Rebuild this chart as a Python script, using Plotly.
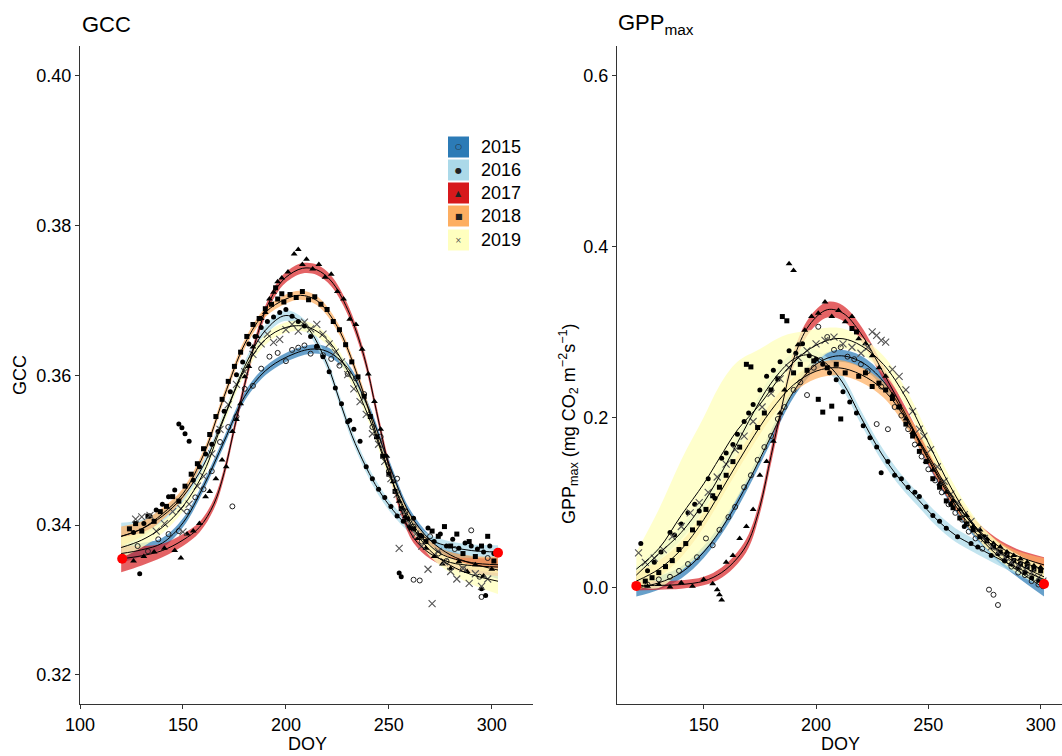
import plotly.graph_objects as go

W, H = 1062, 756
FONT = "Liberation Sans, Arial, sans-serif"

years = ["2015", "2016", "2017", "2018", "2019"]
year_colors = ["#2C7BB6", "#ABD9E9", "#D7191C", "#FDAE61", "#FFFFBF"]
ribbon_colors = ["rgba(44,123,182,0.72)", "rgba(171,217,233,0.72)", "rgba(215,25,28,0.68)",
                 "rgba(253,174,97,0.72)", "rgba(255,255,191,0.8)"]
symbols = ["circle-open", "circle", "triangle-up", "square", "x-thin-open"]
legend_glyphs = ["○", "●", "▲", "■", "×"]

# ---------------- GCC observations ----------------
gcc_doy_2015 = [128,133,138,143,148,152,156,160,164,168,172,174,176,180,184,188,192,196,200,203,206,209,212,215,218,222,226,230,234,238,242,246,250,254,258,262,262,265,266,270,274,278,282,286,290,294,295,298]
gcc_val_2015 = [0.3372,0.3365,0.3381,0.3388,0.3392,0.3418,0.3437,0.3448,0.3472,0.3511,0.3531,0.3425,0.3545,0.3582,0.3586,0.3609,0.3625,0.3630,0.3619,0.3634,0.3637,0.3640,0.3629,0.3638,0.3627,0.3622,0.3613,0.3602,0.3596,0.3575,0.3531,0.3518,0.3472,0.3462,0.3418,0.3398,0.3327,0.3326,0.3378,0.3385,0.3362,0.3352,0.3368,0.3341,0.3393,0.3331,0.3304,0.3356]

gcc_doy_2016 = [126,129,131,134,137,140,143,146,148,149.5,151,153,155,158,161,164,167,170,173,176,179,182,185,188,191,194,197,200,203,206,209,212,215,218,221,224,227,230,231,233,236,239,242,245,248,251,254,255,256,257,260,262,266,269,272,275,278,281,284,287,290,293,295,296,297,299,301]
gcc_val_2016 = [0.3390,0.3335,0.3402,0.3412,0.3420,0.3428,0.3438,0.3447,0.3535,0.3530,0.3522,0.3512,0.3460,0.3478,0.3495,0.3508,0.3525,0.3552,0.3578,0.3601,0.3618,0.3642,0.3652,0.3664,0.3672,0.3678,0.3684,0.3688,0.3679,0.3672,0.3666,0.3652,0.3639,0.3625,0.3605,0.3583,0.3562,0.3538,0.3540,0.3528,0.3512,0.3478,0.3462,0.3448,0.3437,0.3425,0.3412,0.3336,0.3331,0.3405,0.3398,0.3409,0.3385,0.3396,0.3378,0.3388,0.3372,0.3381,0.3369,0.3376,0.3372,0.3368,0.3315,0.3364,0.3306,0.3372,0.3362]

gcc_doy_2017 = [126,131,136,141,146,149,152,155,158,161,163,166,169,171,174,176,178,180,182,184,186,188,190,192,194,196,198,201,204,206,208,210,213,216,219,222,225,228,231,234,237,240,243,246,249,252,255,258,261,264,268,272,276,280,284,288,292,296,300]
gcc_val_2017 = [0.3352,0.3358,0.3364,0.3369,0.3366,0.3356,0.3388,0.3392,0.3402,0.3438,0.3445,0.3462,0.3487,0.3478,0.3525,0.3541,0.3562,0.3598,0.3612,0.3638,0.3652,0.3676,0.3684,0.3702,0.3711,0.3725,0.3730,0.3738,0.3762,0.3768,0.3748,0.3755,0.3742,0.3748,0.3731,0.3735,0.3712,0.3702,0.3675,0.3668,0.3635,0.3602,0.3565,0.3528,0.3492,0.3458,0.3432,0.3411,0.3395,0.3382,0.3369,0.3358,0.3348,0.3342,0.3351,0.3338,0.3347,0.3332,0.3341]

gcc_doy_2018 = [124,127,130,133,136,139,142,145,148,151,154,157,160,163,166,169,172,175,178,181,184,187,190,193,195,196,198,199,202,205,208,211,214,217,220,223,226,229,232,235,238,241,244,247,250,253,256,259,262,265,268,271,274,277,280,283,286,289,292,295,298,301]
gcc_val_2018 = [0.3395,0.3402,0.3392,0.3412,0.3405,0.3418,0.3425,0.3438,0.3432,0.3452,0.3468,0.3482,0.3502,0.3521,0.3545,0.3568,0.3592,0.3612,0.3631,0.3652,0.3668,0.3676,0.3689,0.3695,0.3717,0.3702,0.3709,0.3698,0.3708,0.3704,0.3712,0.3701,0.3705,0.3695,0.3688,0.3672,0.3661,0.3641,0.3618,0.3598,0.3572,0.3545,0.3518,0.3492,0.3468,0.3445,0.3422,0.3408,0.3395,0.3386,0.3378,0.3392,0.3385,0.3398,0.3372,0.3388,0.3362,0.3378,0.3358,0.3372,0.3385,0.3352]

gcc_doy_2019 = [127,130,134,137,141,145,149,150,153,157,160,164,168,172,176,180,184,188,191,194,197,200,203,206,209,212,215,218,221,224,227,230,233,236,239,242,245,248,251,254,255,257,260,263,266,269,271,274,277,280,283,286,289,292,295,298]
gcc_val_2019 = [0.3408,0.3411,0.3413,0.3392,0.3402,0.3418,0.3422,0.3391,0.3428,0.3452,0.3465,0.3495,0.3528,0.3561,0.3588,0.3605,0.3628,0.3642,0.3655,0.3644,0.3648,0.3661,0.3668,0.3659,0.3671,0.3662,0.3668,0.3655,0.3642,0.3631,0.3618,0.3601,0.3582,0.3565,0.3548,0.3522,0.3508,0.3485,0.3462,0.3441,0.3369,0.3418,0.3402,0.3388,0.3372,0.3341,0.3295,0.3365,0.3351,0.3338,0.3328,0.3342,0.3322,0.3335,0.3318,0.3328]

# ---------------- GCC fitted curves (fit and half-width of band) ----------------
gcc_fit_doy_2015 = [120,130,140,150,160,170,180,190,200,212,220,230,240,250,260,270,280,290,303]
gcc_fit_2015 = [0.3362,0.3367,0.3376,0.3403,0.3452,0.3512,0.3572,0.3606,0.3624,0.3635,0.3632,0.3610,0.3557,0.3482,0.3416,0.3380,0.3360,0.3349,0.3340]
gcc_se_2015 = [0.0012,0.0009,0.0007,0.0006,0.0006,0.0006,0.0006,0.0006,0.0006,0.0006,0.0006,0.0006,0.0006,0.0006,0.0006,0.0006,0.0007,0.0009,0.0012]

gcc_fit_doy_2016 = [120,130,140,150,160,170,180,190,200,210,220,226,232,239,245,252,260,270,280,290,303]
gcc_fit_2016 = [0.3385,0.3395,0.3412,0.3438,0.3480,0.3545,0.3612,0.3660,0.3680,0.3665,0.3615,0.3567,0.3520,0.3477,0.3447,0.3420,0.3397,0.3380,0.3371,0.3366,0.3364]
gcc_se_2016 = [0.0018,0.0012,0.0009,0.0008,0.0007,0.0007,0.0007,0.0007,0.0007,0.0007,0.0007,0.0007,0.0007,0.0007,0.0007,0.0007,0.0007,0.0007,0.0007,0.0008,0.0009]

gcc_fit_doy_2017 = [120,130,140,150,158,165,170,175,180,185,190,195,200,208,215,222,230,238,244,250,256,262,270,280,290,303]
gcc_fit_2017 = [0.3355,0.3359,0.3366,0.3380,0.3397,0.3428,0.3470,0.3530,0.3588,0.3643,0.3686,0.3714,0.3731,0.3743,0.3741,0.3726,0.3688,0.3625,0.3552,0.3478,0.3420,0.3383,0.3362,0.3350,0.3346,0.3344]
gcc_se_2017 = [0.0018,0.0013,0.0009,0.0008,0.0007,0.0007,0.0007,0.0007,0.0007,0.0007,0.0007,0.0007,0.0007,0.0007,0.0007,0.0007,0.0007,0.0007,0.0007,0.0007,0.0007,0.0007,0.0007,0.0008,0.0010,0.0012]

gcc_fit_doy_2018 = [120,130,140,150,160,170,180,190,200,207,215,225,235,245,255,265,275,290,303]
gcc_fit_2018 = [0.3385,0.3395,0.3415,0.3442,0.3494,0.3572,0.3642,0.3684,0.3702,0.3707,0.3700,0.3665,0.3598,0.3512,0.3437,0.3388,0.3362,0.3350,0.3347]
gcc_se_2018 = [0.0013,0.0010,0.0008,0.0007,0.0006,0.0006,0.0006,0.0006,0.0006,0.0006,0.0006,0.0006,0.0006,0.0006,0.0006,0.0006,0.0007,0.0009,0.0011]

gcc_fit_doy_2019 = [120,130,140,150,160,170,180,190,200,210,220,230,240,250,260,270,280,290,303]
gcc_fit_2019 = [0.3370,0.3380,0.3397,0.3425,0.3470,0.3543,0.3608,0.3648,0.3664,0.3665,0.3648,0.3606,0.3546,0.3470,0.3405,0.3366,0.3346,0.3334,0.3325]
gcc_se_2019 = [0.0014,0.0010,0.0008,0.0007,0.0007,0.0007,0.0007,0.0007,0.0007,0.0007,0.0007,0.0007,0.0007,0.0007,0.0007,0.0008,0.0010,0.0013,0.0017]

gcc_end_doy = [120.5, 303]
gcc_end_val = [0.3355, 0.3363]

# ---------------- GPPmax observations ----------------
gpp_doy_2015 = [125,130,135,139,143,147,151,154,157,161,164,168,171,174,177,180,183,186,190,193,196,199,201,202,205,208,211,214,217,220,223,227,229,232,235,238,241,244,247,250,253,256,259,262,265,268,271,274,277,279,281,284,287,290,293,296,299,301]
gpp_val_2015 = [0.004,0.010,0.013,0.020,0.028,0.036,0.058,0.050,0.068,0.083,0.095,0.118,0.132,0.150,0.165,0.178,0.198,0.212,0.232,0.241,0.226,0.258,0.306,0.267,0.294,0.279,0.282,0.271,0.268,0.262,0.254,0.192,0.236,0.186,0.212,0.202,0.186,0.168,0.154,0.139,0.126,0.112,0.098,0.088,0.080,0.066,0.058,0.046,-0.002,-0.008,-0.020,0.032,0.025,0.018,0.015,0.008,0.004,0.002]

gpp_doy_2016 = [122,125,128,131,135,137,140,143,146,148,152,155,158,160,163,165,168,170,172,175,178,181,184,188,191,194,197,200,203,206,209,212,215,218,221,224,227,229,232,235,238,241,244,246,249,252,255,258,260,263,266,269,272,275,278,281,284,287,290,293,296,299,301]
gpp_val_2016 = [0.052,0.020,0.030,0.042,0.065,0.062,0.075,0.088,0.098,0.090,0.128,0.105,0.152,0.158,0.168,0.180,0.195,0.205,0.215,0.232,0.248,0.255,0.265,0.278,0.275,0.286,0.272,0.268,0.262,0.252,0.244,0.230,0.218,0.205,0.190,0.176,0.165,0.135,0.148,0.132,0.128,0.118,0.112,0.107,0.095,0.085,0.078,0.070,0.098,0.060,0.072,0.052,0.048,0.060,0.038,0.040,0.032,0.028,0.024,0.018,0.012,0.009,0.006]

gpp_doy_2017 = [125,130,135,140,145,150,154,156,157,158,160,163,166,169,172,175,178,181,184,186,188,190,192,195,198,201,204,207,210,213,216,219,222,225,228,231,234,237,240,243,246,249,252,255,258,261,264,267,270,273,276,279,282,285,288,291,294,297,300]
gpp_val_2017 = [0.002,0.004,0.001,0.006,0.002,0.010,0.005,-0.002,-0.008,-0.014,0.030,0.038,0.058,0.072,0.092,0.132,0.148,0.172,0.205,0.232,0.380,0.372,0.285,0.302,0.318,0.322,0.335,0.318,0.325,0.312,0.318,0.292,0.286,0.272,0.258,0.248,0.226,0.212,0.198,0.182,0.168,0.148,0.138,0.122,0.112,0.102,0.092,0.085,0.072,0.068,0.058,0.052,0.048,0.042,0.038,0.034,0.030,0.026,0.024]

gpp_doy_2018 = [124,127,130,133,136,139,142,145,148,151,154,157,160,163,166,169,171,174,177,180,183,185,187,190,193,196,199,201,203,205,207,209,211,213,216,218,219,222,225,228,231,234,237,240,243,246,249,252,255,258,261,264,267,270,273,276,279,282,285,288,291,294,297,300]
gpp_val_2018 = [0.008,0.012,0.018,0.025,0.032,0.045,0.052,0.068,0.076,0.092,0.108,0.118,0.132,0.148,0.165,0.262,0.259,0.188,0.205,0.232,0.245,0.318,0.313,0.252,0.262,0.255,0.266,0.221,0.206,0.258,0.213,0.262,0.198,0.252,0.304,0.300,0.248,0.252,0.236,0.240,0.232,0.222,0.212,0.192,0.178,0.160,0.148,0.128,0.118,0.102,0.094,0.082,0.075,0.068,0.060,0.055,0.048,0.042,0.038,0.032,0.028,0.025,0.022,0.020]

gpp_doy_2019 = [121,124,128,132,136,140,144,148,152,156,160,164,168,172,176,180,184,188,192,196,200,204,208,212,216,220,223,225,227,229,231,234,237,240,243,246,248,251,254,257,260,263,266,269,272,275,278,281,284,287,290,293,296,299,301]
gpp_val_2019 = [0.041,0.030,0.035,0.045,0.060,0.072,0.088,0.100,0.112,0.130,0.145,0.162,0.178,0.195,0.212,0.228,0.245,0.258,0.270,0.278,0.286,0.290,0.294,0.286,0.282,0.275,0.282,0.300,0.296,0.290,0.288,0.256,0.248,0.232,0.207,0.186,0.178,0.162,0.142,0.125,0.110,0.100,0.086,0.078,0.068,0.058,0.048,0.042,0.036,0.030,0.026,0.022,0.018,0.012,0.008]

# ---------------- GPPmax fitted curves ----------------
gpp_fit_doy_2015 = [120,130,140,150,160,170,180,190,200,210,220,230,240,250,260,270,280,290,301.5]
gpp_fit_2015 = [0.000,0.006,0.018,0.042,0.078,0.125,0.178,0.230,0.262,0.272,0.265,0.242,0.200,0.150,0.105,0.068,0.040,0.020,0.000]
gpp_se_2015 = [0.010,0.008,0.007,0.007,0.007,0.007,0.007,0.007,0.007,0.007,0.007,0.007,0.007,0.007,0.007,0.007,0.007,0.008,0.010]

gpp_fit_doy_2016 = [120,130,140,150,160,170,180,190,197,205,212,220,229,238,246,253,262,270,280,290,301.5]
gpp_fit_2016 = [0.015,0.040,0.065,0.100,0.145,0.195,0.240,0.268,0.273,0.262,0.240,0.200,0.158,0.125,0.102,0.082,0.062,0.050,0.036,0.023,0.010]
gpp_se_2016 = [0.010,0.008,0.008,0.008,0.008,0.008,0.008,0.008,0.008,0.008,0.008,0.008,0.008,0.008,0.008,0.008,0.008,0.008,0.008,0.008,0.009]

gpp_fit_doy_2017 = [120,130,140,150,158,165,170,175,180,185,190,197,205,212,220,230,240,250,260,270,280,290,301.5]
gpp_fit_2017 = [0.003,0.003,0.004,0.008,0.018,0.035,0.055,0.095,0.155,0.215,0.268,0.308,0.326,0.322,0.298,0.252,0.203,0.152,0.108,0.074,0.051,0.037,0.027]
gpp_se_2017 = [0.006,0.005,0.005,0.005,0.006,0.007,0.008,0.008,0.009,0.009,0.009,0.009,0.009,0.009,0.009,0.008,0.008,0.008,0.008,0.008,0.008,0.008,0.009]

gpp_fit_doy_2018 = [120,130,140,150,160,170,180,190,200,210,220,230,240,250,260,270,280,290,301.5]
gpp_fit_2018 = [0.008,0.022,0.045,0.080,0.124,0.168,0.208,0.238,0.254,0.258,0.250,0.232,0.198,0.155,0.110,0.073,0.047,0.032,0.022]
gpp_se_2018 = [0.012,0.010,0.009,0.009,0.009,0.009,0.009,0.009,0.009,0.009,0.009,0.009,0.009,0.009,0.009,0.009,0.010,0.011,0.013]

gpp_fit_doy_2019 = [120,130,140,150,157,165,175,185,195,205,212,220,230,240,250,260,270,280,290,301.5]
gpp_fit_2019 = [0.022,0.046,0.085,0.122,0.152,0.185,0.215,0.250,0.276,0.290,0.292,0.284,0.262,0.223,0.170,0.118,0.075,0.046,0.028,0.013]
gpp_se_2019 = [0.020,0.046,0.065,0.078,0.085,0.080,0.065,0.045,0.025,0.015,0.012,0.010,0.010,0.010,0.010,0.010,0.010,0.010,0.011,0.012]

gpp_end_doy = [120, 301.5]
gpp_end_val = [0.0024, 0.0047]

# ---------------- assemble ----------------
gcc_obs = [(gcc_doy_2015, gcc_val_2015), (gcc_doy_2016, gcc_val_2016), (gcc_doy_2017, gcc_val_2017),
           (gcc_doy_2018, gcc_val_2018), (gcc_doy_2019, gcc_val_2019)]
gcc_fits = [(gcc_fit_doy_2015, gcc_fit_2015, gcc_se_2015), (gcc_fit_doy_2016, gcc_fit_2016, gcc_se_2016),
            (gcc_fit_doy_2017, gcc_fit_2017, gcc_se_2017), (gcc_fit_doy_2018, gcc_fit_2018, gcc_se_2018),
            (gcc_fit_doy_2019, gcc_fit_2019, gcc_se_2019)]
gpp_obs = [(gpp_doy_2015, gpp_val_2015), (gpp_doy_2016, gpp_val_2016), (gpp_doy_2017, gpp_val_2017),
           (gpp_doy_2018, gpp_val_2018), (gpp_doy_2019, gpp_val_2019)]
gpp_fits = [(gpp_fit_doy_2015, gpp_fit_2015, gpp_se_2015), (gpp_fit_doy_2016, gpp_fit_2016, gpp_se_2016),
            (gpp_fit_doy_2017, gpp_fit_2017, gpp_se_2017), (gpp_fit_doy_2018, gpp_fit_2018, gpp_se_2018),
            (gpp_fit_doy_2019, gpp_fit_2019, gpp_se_2019)]

fig = go.Figure()


def add_panel(obs, fits, ends, xa, ya):
    for i, (d, f, s) in enumerate(fits):
        lo = [a - b for a, b in zip(f, s)]
        hi = [a + b for a, b in zip(f, s)]
        fig.add_trace(go.Scatter(x=d, y=lo, mode="lines", line=dict(width=0, shape="spline", smoothing=1.0),
                                 xaxis=xa, yaxis=ya, showlegend=False, hoverinfo="skip"))
        fig.add_trace(go.Scatter(x=d, y=hi, mode="lines", line=dict(width=0, shape="spline", smoothing=1.0),
                                 fill="tonexty", fillcolor=ribbon_colors[i],
                                 xaxis=xa, yaxis=ya, showlegend=False, hoverinfo="skip"))
    for i, (d, v) in enumerate(obs):
        sym = symbols[i]
        if sym == "circle-open":
            mk = dict(symbol=sym, size=5, color="#222", line=dict(width=1, color="#222"))
        elif sym == "x-thin-open":
            mk = dict(symbol=sym, size=7, color="#555", line=dict(width=1.1, color="#555"))
        elif sym == "triangle-up":
            mk = dict(symbol=sym, size=6, color="black", line=dict(width=0))
        else:
            mk = dict(symbol=sym, size=5, color="black", line=dict(width=0))
        fig.add_trace(go.Scatter(x=d, y=v, mode="markers", marker=mk, name=years[i],
                                 xaxis=xa, yaxis=ya, showlegend=False))
    for i, (d, f, s) in enumerate(fits):
        fig.add_trace(go.Scatter(x=d, y=f, mode="lines", line=dict(color="black", width=1, shape="spline", smoothing=1.0),
                                 xaxis=xa, yaxis=ya, showlegend=False, hoverinfo="skip"))
    fig.add_trace(go.Scatter(x=ends[0], y=ends[1], mode="markers", marker=dict(color="red", size=10),
                             xaxis=xa, yaxis=ya, showlegend=False, cliponaxis=False))


add_panel(gcc_obs, gcc_fits, (gcc_end_doy, gcc_end_val), "x", "y")
add_panel(gpp_obs, gpp_fits, (gpp_end_doy, gpp_end_val), "x2", "y2")

axis_common = dict(showline=True, linecolor="#333", linewidth=1, ticks="outside", ticklen=4,
                   tickcolor="#333", showgrid=False, zeroline=False, automargin=False,
                   tickfont=dict(family=FONT, size=18, color="black"))

fig.update_layout(
    width=W, height=H, margin=dict(l=0, r=0, t=0, b=0, pad=0, autoexpand=False),
    paper_bgcolor="white", plot_bgcolor="white", showlegend=False,
    font=dict(family=FONT, color="black"),
    xaxis=dict(domain=[80 / W, 533 / W], range=[100, 320], tickvals=[100, 150, 200, 250, 300],
               anchor="y", **axis_common),
    yaxis=dict(domain=[1 - 704 / H, 1 - 46 / H], range=[0.3161, 0.404],
               tickvals=[0.32, 0.34, 0.36, 0.38, 0.40], tickformat=".2f", anchor="x", **axis_common),
    xaxis2=dict(domain=[617 / W, 1.0], range=[111.4, 309.5], tickvals=[150, 200, 250, 300],
                anchor="y2", **axis_common),
    yaxis2=dict(domain=[1 - 704 / H, 1 - 46 / H], range=[-0.136, 0.635],
                tickvals=[0.0, 0.2, 0.4, 0.6], tickformat=".1f", anchor="x2", **axis_common),
)

ann = []
def px_ann(text, x, y, size, xanchor="center", yanchor="middle", angle=0):
    ann.append(dict(text=text, x=x / W, y=1 - y / H, xref="paper", yref="paper", showarrow=False,
                    xanchor=xanchor, yanchor=yanchor, textangle=angle,
                    font=dict(family=FONT, size=size, color="black")))

px_ann("GCC", 80, 24, 22, xanchor="left")
px_ann("GPP<sub>max</sub>", 616, 24, 22, xanchor="left")
px_ann("DOY", 307, 744, 18)
px_ann("DOY", 840, 744, 18)
px_ann("GCC", 20, 375, 18, angle=-90)
px_ann("GPP<sub>max</sub> (mg CO<sub>2</sub> m<sup>−2</sup>s<sup>−1</sup>)", 568, 424, 18, angle=-90)

shapes = []
leg_y = [147, 170, 193, 216, 240]
for i, yr in enumerate(years):
    yc = leg_y[i]
    shapes.append(dict(type="rect", xref="paper", yref="paper", x0=448 / W, x1=469 / W,
                       y0=1 - (yc + 10.5) / H, y1=1 - (yc - 10.5) / H,
                       fillcolor=year_colors[i], line=dict(width=0)))
    ann.append(dict(text=legend_glyphs[i], x=458.5 / W, y=1 - yc / H, xref="paper", yref="paper",
                    showarrow=False, xanchor="center", yanchor="middle",
                    font=dict(family="DejaVu Sans", size=8, color="#222" if i != 4 else "#555")))
    px_ann(yr, 479, yc, 18, xanchor="left")

fig.update_layout(annotations=ann, shapes=shapes)
fig.write_html("out.html", config={"displayModeBar": False},
               post_script="document.body.style.margin='0px'; document.body.style.overflow='hidden';")
